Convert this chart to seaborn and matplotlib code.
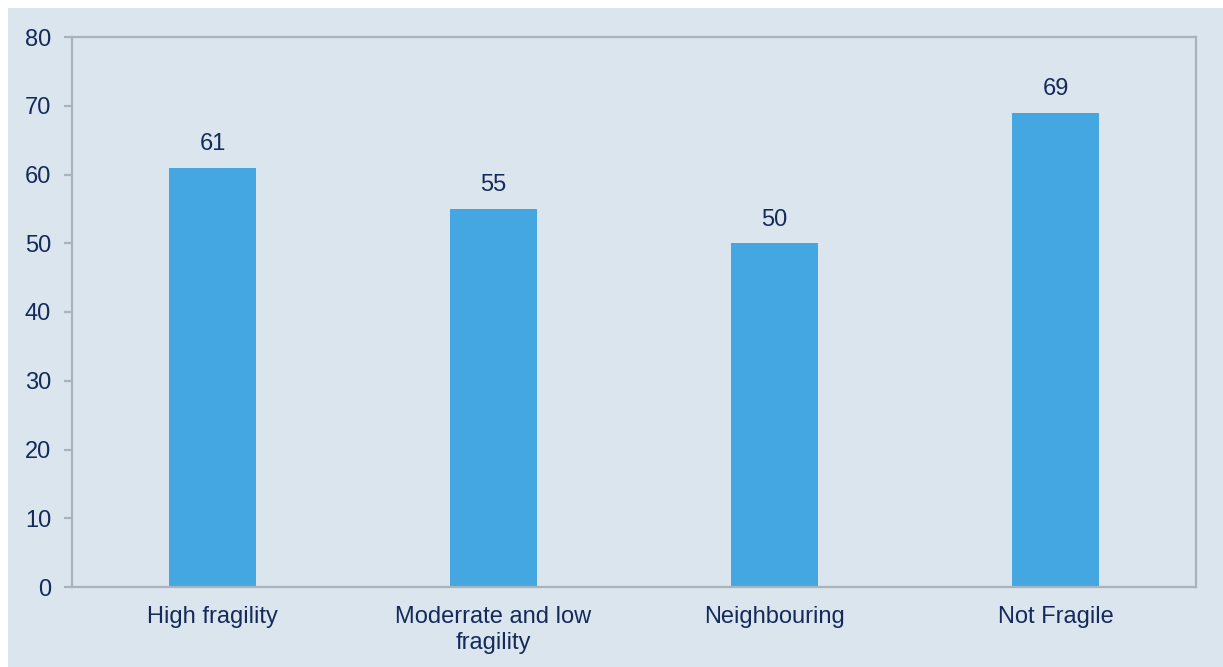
import matplotlib
matplotlib.use('Agg')
import matplotlib.pyplot as plt
import seaborn as sns
import pandas as pd
from matplotlib.patches import Rectangle

categories = ['High fragility', 'Moderrate and low\nfragility', 'Neighbouring', 'Not Fragile']
values = [61, 55, 50, 69]

bg = '#DAE5EE'
bar_color = '#45A7E2'
text_color = '#152A5A'
spine_color = '#A9B3BC'

sns.set_style('white')
plt.rcParams['font.family'] = ['Liberation Sans', 'DejaVu Sans']

df = pd.DataFrame({'category': categories, 'value': values})

fig = plt.figure(figsize=(12.23, 6.67), dpi=100, facecolor='white')
# light panel behind the chart, small white margin on top/left
fig.patches.append(Rectangle((8 / 1223, 0), 1 - 8 / 1223, 1 - 8 / 667,
                             transform=fig.transFigure, facecolor=bg,
                             edgecolor='none', zorder=-10))

ax = fig.add_axes([72 / 1223, 1 - 587 / 667, (1196 - 72) / 1223, (587 - 37) / 667])
ax.set_zorder(1)
ax.set_facecolor(bg)

sns.barplot(data=df, x='category', y='value', color=bar_color,
            width=0.313, saturation=1, linewidth=0, ax=ax)

ax.set_ylim(0, 80)
ax.set_yticks(range(0, 81, 10))
ax.set_xlabel('')
ax.set_ylabel('')

for sp in ax.spines.values():
    sp.set_visible(True)
    sp.set_color(spine_color)
    sp.set_linewidth(1.6)

ax.tick_params(axis='y', length=6, width=1.6, color=spine_color,
               labelsize=17, labelcolor=text_color, pad=9, left=True)
ax.tick_params(axis='x', length=0, labelsize=17, labelcolor=text_color, pad=14)

for container in ax.containers:
    ax.bar_label(container, labels=[str(v) for v in values], padding=9,
                 fontsize=17, color=text_color)

fig.savefig('out.png', dpi=100, facecolor='white')
